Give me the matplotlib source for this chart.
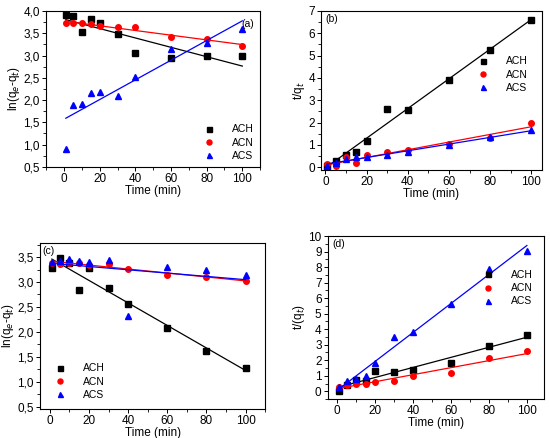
import numpy as np
import matplotlib.pyplot as plt
from matplotlib.ticker import FuncFormatter, MultipleLocator

plt.rcParams['font.family'] = ['Liberation Sans', 'DejaVu Sans']

time = np.array([1, 5, 10, 15, 20, 30, 40, 60, 80, 100])

# (a) pseudo-first order, ln(qe-qt)
a_ach = [3.91, 3.89, 3.52, 3.83, 3.73, 3.49, 3.06, 2.94, 2.98, 3.00]
a_acn = [3.73, 3.72, 3.73, 3.70, 3.67, 3.63, 3.63, 3.42, 3.38, 3.21]
a_acs = [0.90, 1.88, 1.92, 2.16, 2.18, 2.08, 2.52, 3.15, 3.28, 3.60]

# (b) pseudo-second order, t/qt
b_ach = [0.06, 0.30, 0.54, 0.70, 1.18, 2.61, 2.55, 3.93, 5.26, 6.58]
b_acn = [0.13, 0.06, 0.45, 0.21, 0.55, 0.67, 0.79, 1.03, 1.30, 1.98]
b_acs = [0.07, 0.18, 0.36, 0.46, 0.48, 0.55, 0.70, 0.98, 1.34, 1.67]

# (c) pseudo-first order
c_ach = [3.29, 3.49, 3.38, 2.83, 3.28, 2.88, 2.56, 2.07, 1.62, 1.27]
c_acn = [3.38, 3.37, 3.38, 3.38, 3.35, 3.37, 3.26, 3.14, 3.10, 3.02]
c_acs = [3.41, 3.42, 3.46, 3.43, 3.40, 3.45, 2.31, 3.31, 3.25, 3.13]

# (d) pseudo-second order
d_ach = [0.04, 0.41, 0.75, 0.64, 1.31, 1.24, 1.39, 1.80, 2.93, 3.60]
d_acn = [0.28, 0.43, 0.45, 0.49, 0.58, 0.69, 1.00, 1.18, 2.14, 2.57]
d_acs = [0.26, 0.64, 0.79, 0.96, 1.80, 3.49, 3.79, 5.63, 7.90, 9.04]

names = ['ACH', 'ACN', 'ACS']
colors = ['black', 'red', 'blue']
markers = ['s', 'o', '^']

comma = FuncFormatter(lambda v, p: f"{v:.1f}".replace('.', ','))

fig = plt.figure(figsize=(5.5, 4.38), dpi=100)
axes = [
    fig.add_axes([0.084, 0.619, 0.389, 0.356]),
    fig.add_axes([0.584, 0.612, 0.401, 0.363]),
    fig.add_axes([0.073, 0.066, 0.409, 0.379]),
    fig.add_axes([0.596, 0.089, 0.393, 0.372]),
]

panels = [
    ([a_ach, a_acn, a_acs], 'ln(q$_e$-q$_t$)', 0.5),
    ([b_ach, b_acn, b_acs], 't/q$_t$', 1),
    ([c_ach, c_acn, c_acs], 'ln(q$_e$-q$_t$)', 0.5),
    ([d_ach, d_acn, d_acs], 't/(q$_t$)', 1),
]

for ax, (series, ylab, ystep) in zip(axes, panels):
    for y, n, c, m in zip(series, names, colors, markers):
        y = np.array(y)
        k, b = np.polyfit(time, y, 1)
        ax.plot(time, k * time + b, color=c, lw=0.9)
        ax.plot(time, y, m, color=c, ms=4, ls='none', label=n)
    ax.set_xlabel('Time (min)', fontsize=8.5, labelpad=0)
    ax.set_ylabel(ylab, fontsize=8.5, labelpad=1)
    ax.tick_params(labelsize=8.5, length=3, width=0.7, pad=1.5)
    ax.tick_params(which='minor', length=2, width=0.6)
    ax.xaxis.set_major_locator(MultipleLocator(20))
    ax.xaxis.set_minor_locator(MultipleLocator(10))
    ax.yaxis.set_major_locator(MultipleLocator(ystep))
    ax.yaxis.set_minor_locator(MultipleLocator(ystep / 2))
    for s in ax.spines.values():
        s.set_linewidth(0.8)

leg_kw = dict(frameon=False, fontsize=7.5, handletextpad=1.2, labelspacing=0.3,
              markerscale=0.9)

ax = axes[0]
ax.set_xlim(-10, 110)
ax.set_ylim(0.5, 4.0)
ax.yaxis.set_major_formatter(comma)
ax.text(0.97, 0.95, '(a)', transform=ax.transAxes, ha='right', va='top', fontsize=7.5)
ax.legend(loc='lower right', borderaxespad=0.2, **leg_kw)

ax = axes[1]
ax.set_xlim(-2, 105)
ax.set_ylim(-0.12, 7)
ax.text(0.02, 0.98, '(b)', transform=ax.transAxes, ha='left', va='top', fontsize=7.5)
ax.legend(loc='center right', bbox_to_anchor=(0.98, 0.6), **leg_kw)

ax = axes[2]
ax.set_xlim(-5, 110)
ax.set_ylim(0.45, 3.78)
ax.yaxis.set_major_formatter(comma)
ax.text(0.01, 0.98, '(c)', transform=ax.transAxes, ha='left', va='top', fontsize=7.5)
ax.legend(loc='lower left', borderaxespad=0.5, **leg_kw)

ax = axes[3]
ax.set_xlim(-5, 109)
ax.set_ylim(-0.5, 10)
ax.text(0.02, 0.98, '(d)', transform=ax.transAxes, ha='left', va='top', fontsize=7.5)
ax.legend(loc='center right', bbox_to_anchor=(0.99, 0.68), **leg_kw)

fig.savefig('out.png', dpi=100)
